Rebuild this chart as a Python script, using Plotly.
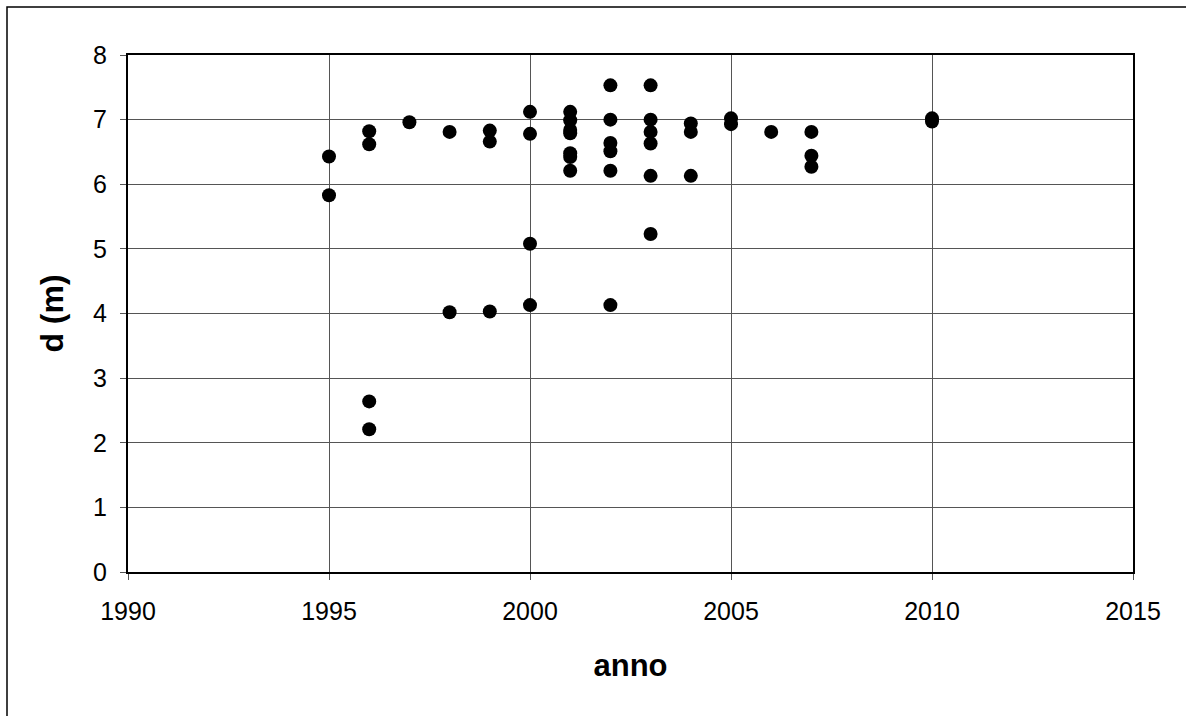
import plotly.graph_objects as go

years = [1995, 1995,
         1996, 1996, 1996, 1996,
         1997,
         1998, 1998,
         1999, 1999, 1999,
         2000, 2000, 2000, 2000,
         2001, 2001, 2001, 2001, 2001, 2001, 2001,
         2002, 2002, 2002, 2002, 2002, 2002,
         2003, 2003, 2003, 2003, 2003, 2003,
         2004, 2004, 2004,
         2005, 2005,
         2006,
         2007, 2007, 2007,
         2010, 2010]
depth = [6.43, 5.83,
         6.82, 6.62, 2.64, 2.21,
         6.96,
         6.81, 4.02,
         6.83, 6.66, 4.03,
         7.12, 6.78, 5.08, 4.13,
         7.12, 6.99, 6.84, 6.79, 6.48, 6.42, 6.21,
         7.53, 7.00, 6.64, 6.51, 6.21, 4.13,
         7.53, 7.00, 6.81, 6.63, 6.13, 5.23,
         6.94, 6.81, 6.13,
         7.02, 6.93,
         6.81,
         6.81, 6.44, 6.27,
         7.02, 6.97]

x_ticks = [1990, 1995, 2000, 2005, 2010, 2015]
y_ticks = [0, 1, 2, 3, 4, 5, 6, 7, 8]

W, H = 1186, 716

fig = go.Figure()
fig.add_trace(go.Scatter(
    x=years, y=depth, mode="markers",
    marker=dict(color="black", size=14, line=dict(width=0)),
    showlegend=False,
))

font_family = "Liberation Sans, Arial, sans-serif"
grid_col = "#555555"

# outer frame (left and top edges only, as in the reference)
fx = 7 / W
fy = 1 - 7 / H
frame_path = f"M {fx},0 L {fx},{fy} L 1,{fy}"

fig.update_layout(
    width=W, height=H,
    margin=dict(l=0, r=0, t=0, b=0, autoexpand=False),
    paper_bgcolor="white", plot_bgcolor="white",
    font=dict(family=font_family, color="black", size=25),
    xaxis=dict(
        domain=[128 / W, 1133 / W],
        range=[1990, 2015], tickvals=x_ticks, ticktext=[str(v) for v in x_ticks],
        showgrid=True, gridcolor=grid_col, gridwidth=1,
        zeroline=False, showline=True, linecolor="black", linewidth=2,
        mirror=True, ticks="outside", ticklen=6, tickcolor=grid_col,
        tickfont=dict(size=25), ticklabelstandoff=10, automargin=False,
        title=dict(text="<b>anno</b>", font=dict(size=31), standoff=30),
    ),
    yaxis=dict(
        domain=[1 - 572 / H, 1 - 55 / H],
        range=[0, 8], tickvals=y_ticks, ticktext=[str(v) for v in y_ticks],
        showgrid=True, gridcolor=grid_col, gridwidth=1,
        zeroline=False, showline=True, linecolor="black", linewidth=2,
        mirror=True, ticks="outside", ticklen=6, tickcolor=grid_col,
        tickfont=dict(size=25), ticklabelstandoff=8, automargin=False,
        title=dict(text="<b>d (m)</b>", font=dict(size=32), standoff=20),
    ),
    shapes=[
        dict(type="path", xref="paper", yref="paper", path=frame_path,
             line=dict(color="black", width=1.5), fillcolor="rgba(0,0,0,0)",
             layer="above"),
    ],
)

fig.write_html("out.html", config={"displayModeBar": False})
